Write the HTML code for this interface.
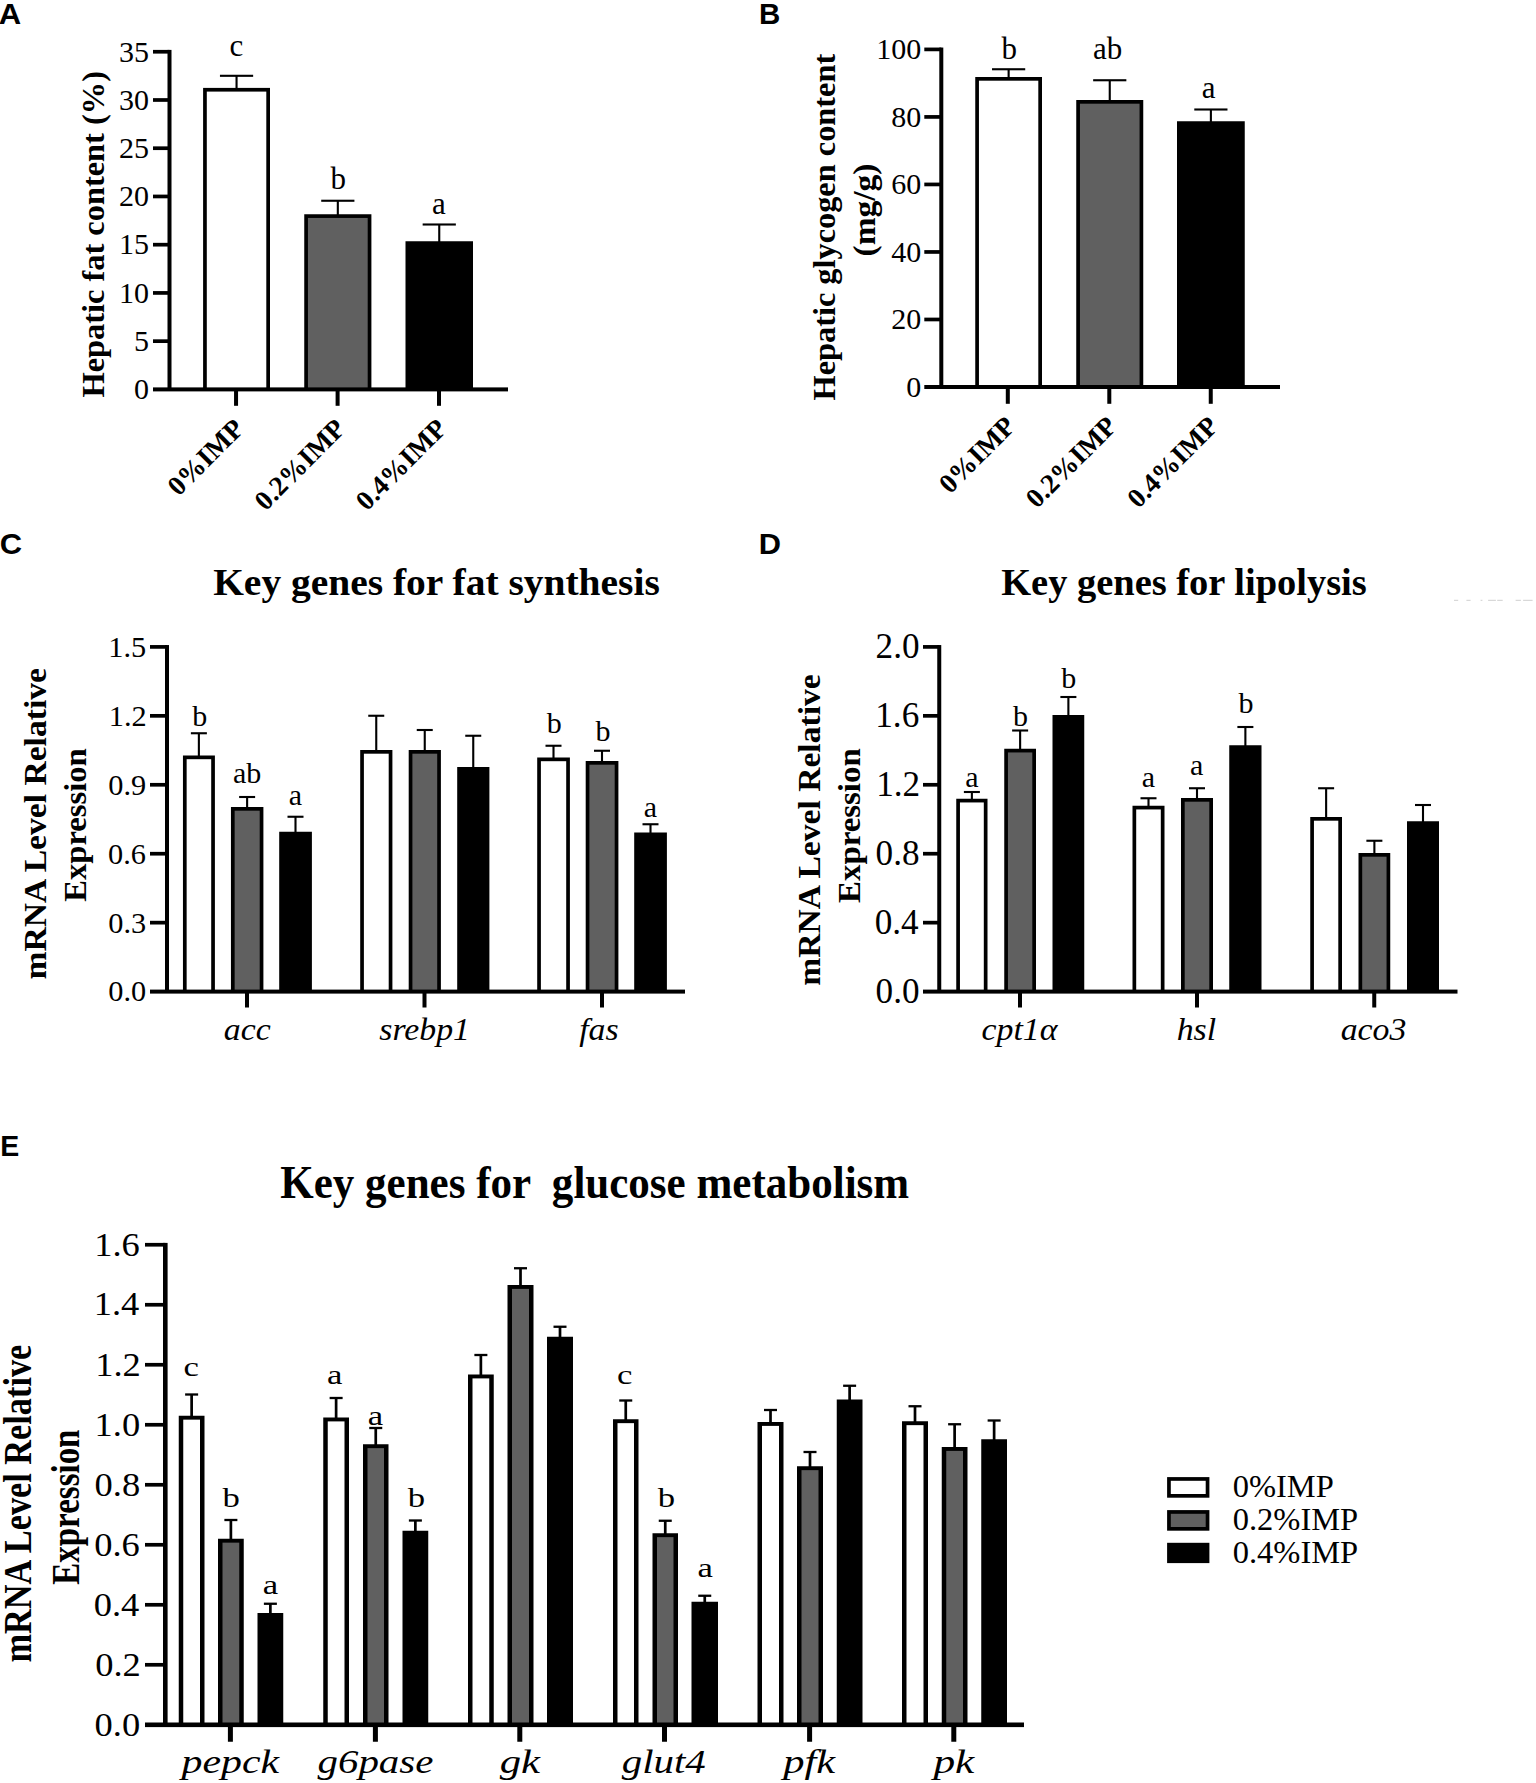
<!DOCTYPE html>
<html lang="en">
<head>
<meta charset="utf-8">
<title>Figure</title>
<style>
html,body{margin:0;padding:0;background:#fff}
svg{display:block}
text{fill:#000;white-space:pre}
.t0{font-family:'Liberation Serif', serif}
.t1{font-family:'Liberation Serif', serif;font-weight:bold}
.t2{font-family:'Liberation Serif', serif;font-style:italic}
.t3{font-family:'Liberation Sans', sans-serif;font-weight:bold}
</style>
</head>
<body>
<svg width="1536" height="1783" viewBox="0 0 1536 1783" shape-rendering="geometricPrecision">
<rect x="0" y="0" width="1536" height="1783" fill="#fff"/>
<g>
<rect x="203.1" y="87.9" width="66.9" height="301.5" fill="#000"/>
<rect x="206.8" y="91.6" width="59.5" height="297.8" fill="#fff"/>
<rect x="219.95" y="74.75" width="33.2" height="2.1" fill="#000"/>
<rect x="235.5" y="75.8" width="2.1" height="13.1" fill="#000"/>
<rect x="304.25" y="214.25" width="67.15" height="175.15" fill="#000"/>
<rect x="307.95" y="217.95" width="59.75" height="171.45" fill="#606060"/>
<rect x="321.22" y="199.7" width="33.2" height="2.1" fill="#000"/>
<rect x="336.77" y="200.75" width="2.1" height="14.5" fill="#000"/>
<rect x="405.5" y="241.25" width="67.5" height="148.15" fill="#000"/>
<rect x="422.65" y="223.45" width="33.2" height="2.1" fill="#000"/>
<rect x="438.2" y="224.5" width="2.1" height="17.75" fill="#000"/>
<rect x="975.25" y="77" width="66.75" height="310" fill="#000"/>
<rect x="978.95" y="80.7" width="59.35" height="306.3" fill="#fff"/>
<rect x="992.02" y="68.2" width="33.2" height="2.1" fill="#000"/>
<rect x="1007.58" y="69.25" width="2.1" height="8.75" fill="#000"/>
<rect x="1076.25" y="100" width="67" height="287" fill="#000"/>
<rect x="1079.95" y="103.7" width="59.6" height="283.3" fill="#606060"/>
<rect x="1093.15" y="79.2" width="33.2" height="2.1" fill="#000"/>
<rect x="1108.7" y="80.25" width="2.1" height="20.75" fill="#000"/>
<rect x="1177" y="121.25" width="67.75" height="265.75" fill="#000"/>
<rect x="1194.28" y="108.45" width="33.2" height="2.1" fill="#000"/>
<rect x="1209.83" y="109.5" width="2.1" height="12.75" fill="#000"/>
<rect x="182.95" y="755.5" width="31.95" height="236.1" fill="#000"/>
<rect x="186.65" y="759.2" width="24.55" height="232.4" fill="#fff"/>
<rect x="190.88" y="732.2" width="16" height="2.1" fill="#000"/>
<rect x="197.82" y="733.25" width="2.1" height="23.25" fill="#000"/>
<rect x="230.95" y="807" width="32.45" height="184.6" fill="#000"/>
<rect x="234.65" y="810.7" width="25.05" height="180.9" fill="#606060"/>
<rect x="239.12" y="795.95" width="16" height="2.1" fill="#000"/>
<rect x="246.07" y="797" width="2.1" height="11" fill="#000"/>
<rect x="279.2" y="831.75" width="32.7" height="159.85" fill="#000"/>
<rect x="287.5" y="815.7" width="16" height="2.1" fill="#000"/>
<rect x="294.45" y="816.75" width="2.1" height="16" fill="#000"/>
<rect x="360.2" y="750" width="32.2" height="241.6" fill="#000"/>
<rect x="363.9" y="753.7" width="24.8" height="237.9" fill="#fff"/>
<rect x="368.25" y="714.7" width="16" height="2.1" fill="#000"/>
<rect x="375.2" y="715.75" width="2.1" height="35.25" fill="#000"/>
<rect x="408.7" y="750" width="32.2" height="241.6" fill="#000"/>
<rect x="412.4" y="753.7" width="24.8" height="237.9" fill="#606060"/>
<rect x="416.75" y="728.95" width="16" height="2.1" fill="#000"/>
<rect x="423.7" y="730" width="2.1" height="21" fill="#000"/>
<rect x="457.2" y="767" width="32.2" height="224.6" fill="#000"/>
<rect x="465.25" y="734.7" width="16" height="2.1" fill="#000"/>
<rect x="472.2" y="735.75" width="2.1" height="32.25" fill="#000"/>
<rect x="537.2" y="757.5" width="32.7" height="234.1" fill="#000"/>
<rect x="540.9" y="761.2" width="25.3" height="230.4" fill="#fff"/>
<rect x="545.5" y="744.7" width="16" height="2.1" fill="#000"/>
<rect x="552.45" y="745.75" width="2.1" height="12.75" fill="#000"/>
<rect x="585.7" y="761" width="32.7" height="230.6" fill="#000"/>
<rect x="589.4" y="764.7" width="25.3" height="226.9" fill="#606060"/>
<rect x="594" y="749.7" width="16" height="2.1" fill="#000"/>
<rect x="600.95" y="750.75" width="2.1" height="11.25" fill="#000"/>
<rect x="634.2" y="832.5" width="32.7" height="159.1" fill="#000"/>
<rect x="642.5" y="823.2" width="16" height="2.1" fill="#000"/>
<rect x="649.45" y="824.25" width="2.1" height="9.25" fill="#000"/>
<rect x="956.25" y="798.75" width="31.25" height="192.85" fill="#000"/>
<rect x="959.95" y="802.45" width="23.85" height="189.15" fill="#fff"/>
<rect x="963.88" y="790.95" width="16" height="2.1" fill="#000"/>
<rect x="970.83" y="792" width="2.1" height="7.75" fill="#000"/>
<rect x="1004.25" y="748.75" width="31.75" height="242.85" fill="#000"/>
<rect x="1007.95" y="752.45" width="24.35" height="239.15" fill="#606060"/>
<rect x="1012.12" y="729.45" width="16" height="2.1" fill="#000"/>
<rect x="1019.08" y="730.5" width="2.1" height="19.25" fill="#000"/>
<rect x="1052.5" y="715" width="31.75" height="276.6" fill="#000"/>
<rect x="1060.38" y="695.95" width="16" height="2.1" fill="#000"/>
<rect x="1067.33" y="697" width="2.1" height="19" fill="#000"/>
<rect x="1132.5" y="805.75" width="32" height="185.85" fill="#000"/>
<rect x="1136.2" y="809.45" width="24.6" height="182.15" fill="#fff"/>
<rect x="1140.5" y="797.2" width="16" height="2.1" fill="#000"/>
<rect x="1147.45" y="798.25" width="2.1" height="8.5" fill="#000"/>
<rect x="1181" y="798" width="32" height="193.6" fill="#000"/>
<rect x="1184.7" y="801.7" width="24.6" height="189.9" fill="#606060"/>
<rect x="1189" y="787.2" width="16" height="2.1" fill="#000"/>
<rect x="1195.95" y="788.25" width="2.1" height="10.75" fill="#000"/>
<rect x="1229.25" y="745.25" width="32.25" height="246.35" fill="#000"/>
<rect x="1237.38" y="725.95" width="16" height="2.1" fill="#000"/>
<rect x="1244.33" y="727" width="2.1" height="19.25" fill="#000"/>
<rect x="1310.25" y="817" width="31.75" height="174.6" fill="#000"/>
<rect x="1313.95" y="820.7" width="24.35" height="170.9" fill="#fff"/>
<rect x="1318.12" y="787.2" width="16" height="2.1" fill="#000"/>
<rect x="1325.08" y="788.25" width="2.1" height="29.75" fill="#000"/>
<rect x="1358.5" y="853" width="31.75" height="138.6" fill="#000"/>
<rect x="1362.2" y="856.7" width="24.35" height="134.9" fill="#606060"/>
<rect x="1366.38" y="839.7" width="16" height="2.1" fill="#000"/>
<rect x="1373.33" y="840.75" width="2.1" height="13.25" fill="#000"/>
<rect x="1407" y="821.25" width="32" height="170.35" fill="#000"/>
<rect x="1415" y="803.95" width="16" height="2.1" fill="#000"/>
<rect x="1421.95" y="805" width="2.1" height="17.25" fill="#000"/>
<rect x="1454" y="599.8" width="4.2" height="1" fill="#cfcfcf"/>
<rect x="1466.4" y="599.8" width="4.2" height="1" fill="#cfcfcf"/>
<rect x="1480.6" y="599.8" width="1.8" height="1" fill="#cfcfcf"/>
<rect x="1488.1" y="599.8" width="7.8" height="1" fill="#cfcfcf"/>
<rect x="1497.2" y="599.8" width="5.5" height="1" fill="#cfcfcf"/>
<rect x="1515.6" y="599.8" width="5.3" height="1" fill="#cfcfcf"/>
<rect x="1523.1" y="599.8" width="9.5" height="1" fill="#cfcfcf"/>
<rect x="178.75" y="1415.75" width="25.75" height="309.25" fill="#000"/>
<rect x="183.25" y="1419.65" width="16.75" height="305.35" fill="#fff"/>
<rect x="185.12" y="1393.35" width="13" height="2.3" fill="#000"/>
<rect x="190.28" y="1394.5" width="2.7" height="22.25" fill="#000"/>
<rect x="218" y="1538.75" width="25.75" height="186.25" fill="#000"/>
<rect x="222.5" y="1542.65" width="16.75" height="182.35" fill="#606060"/>
<rect x="224.38" y="1518.85" width="13" height="2.3" fill="#000"/>
<rect x="229.53" y="1520" width="2.7" height="19.75" fill="#000"/>
<rect x="257.5" y="1613" width="25.75" height="112" fill="#000"/>
<rect x="263.88" y="1602.6" width="13" height="2.3" fill="#000"/>
<rect x="269.02" y="1603.75" width="2.7" height="10.25" fill="#000"/>
<rect x="323.25" y="1417.5" width="25.75" height="307.5" fill="#000"/>
<rect x="327.75" y="1421.4" width="16.75" height="303.6" fill="#fff"/>
<rect x="329.62" y="1396.85" width="13" height="2.3" fill="#000"/>
<rect x="334.77" y="1398" width="2.7" height="20.5" fill="#000"/>
<rect x="363" y="1444.25" width="25.5" height="280.75" fill="#000"/>
<rect x="367.5" y="1448.15" width="16.5" height="276.85" fill="#606060"/>
<rect x="369.25" y="1426.85" width="13" height="2.3" fill="#000"/>
<rect x="374.4" y="1428" width="2.7" height="17.25" fill="#000"/>
<rect x="402.5" y="1530.75" width="25.75" height="194.25" fill="#000"/>
<rect x="408.88" y="1519.35" width="13" height="2.3" fill="#000"/>
<rect x="414.02" y="1520.5" width="2.7" height="11.25" fill="#000"/>
<rect x="468" y="1374.5" width="25.75" height="350.5" fill="#000"/>
<rect x="472.5" y="1378.4" width="16.75" height="346.6" fill="#fff"/>
<rect x="474.38" y="1353.85" width="13" height="2.3" fill="#000"/>
<rect x="479.52" y="1355" width="2.7" height="20.5" fill="#000"/>
<rect x="507.5" y="1285" width="26" height="440" fill="#000"/>
<rect x="512" y="1288.9" width="17" height="436.1" fill="#606060"/>
<rect x="514" y="1267.1" width="13" height="2.3" fill="#000"/>
<rect x="519.15" y="1268.25" width="2.7" height="17.75" fill="#000"/>
<rect x="547" y="1336.75" width="26" height="388.25" fill="#000"/>
<rect x="553.5" y="1325.6" width="13" height="2.3" fill="#000"/>
<rect x="558.65" y="1326.75" width="2.7" height="11" fill="#000"/>
<rect x="613" y="1419.25" width="25.5" height="305.75" fill="#000"/>
<rect x="617.5" y="1423.15" width="16.5" height="301.85" fill="#fff"/>
<rect x="619.25" y="1399.35" width="13" height="2.3" fill="#000"/>
<rect x="624.4" y="1400.5" width="2.7" height="19.75" fill="#000"/>
<rect x="652.5" y="1533.25" width="25.5" height="191.75" fill="#000"/>
<rect x="657" y="1537.15" width="16.5" height="187.85" fill="#606060"/>
<rect x="658.75" y="1519.6" width="13" height="2.3" fill="#000"/>
<rect x="663.9" y="1520.75" width="2.7" height="13.5" fill="#000"/>
<rect x="691.5" y="1601.75" width="26.5" height="123.25" fill="#000"/>
<rect x="698.25" y="1594.6" width="13" height="2.3" fill="#000"/>
<rect x="703.4" y="1595.75" width="2.7" height="7" fill="#000"/>
<rect x="757.5" y="1422" width="26" height="303" fill="#000"/>
<rect x="762" y="1425.9" width="17" height="299.1" fill="#fff"/>
<rect x="764" y="1408.85" width="13" height="2.3" fill="#000"/>
<rect x="769.15" y="1410" width="2.7" height="13" fill="#000"/>
<rect x="797" y="1466.25" width="26" height="258.75" fill="#000"/>
<rect x="801.5" y="1470.15" width="17" height="254.85" fill="#606060"/>
<rect x="803.5" y="1450.85" width="13" height="2.3" fill="#000"/>
<rect x="808.65" y="1452" width="2.7" height="15.25" fill="#000"/>
<rect x="836.75" y="1399.5" width="25.75" height="325.5" fill="#000"/>
<rect x="843.12" y="1384.6" width="13" height="2.3" fill="#000"/>
<rect x="848.27" y="1385.75" width="2.7" height="14.75" fill="#000"/>
<rect x="902" y="1421.25" width="26" height="303.75" fill="#000"/>
<rect x="906.5" y="1425.15" width="17" height="299.85" fill="#fff"/>
<rect x="908.5" y="1405.1" width="13" height="2.3" fill="#000"/>
<rect x="913.65" y="1406.25" width="2.7" height="16" fill="#000"/>
<rect x="941.75" y="1447" width="25.75" height="278" fill="#000"/>
<rect x="946.25" y="1450.9" width="16.75" height="274.1" fill="#606060"/>
<rect x="948.12" y="1423.1" width="13" height="2.3" fill="#000"/>
<rect x="953.27" y="1424.25" width="2.7" height="23.75" fill="#000"/>
<rect x="981.25" y="1439.25" width="25.75" height="285.75" fill="#000"/>
<rect x="987.62" y="1419.35" width="13" height="2.3" fill="#000"/>
<rect x="992.77" y="1420.5" width="2.7" height="19.75" fill="#000"/>
<rect x="1167.1" y="1477.1" width="42.3" height="20.6" fill="#000"/>
<rect x="1170.8" y="1480.8" width="34.9" height="13.2" fill="#fff"/>
<rect x="1167.1" y="1510.1" width="42.3" height="20.6" fill="#000"/>
<rect x="1170.8" y="1513.8" width="34.9" height="13.2" fill="#606060"/>
<rect x="1167.1" y="1542.8" width="42.3" height="20.3" fill="#000"/>
</g>
<g fill="#000">
<rect x="167.5" y="49.9" width="4" height="339.5"/>
<rect x="153" y="387.4" width="355" height="4"/>
<rect x="153" y="49.9" width="16.5" height="3.7"/>
<rect x="153" y="98.14" width="16.5" height="3.7"/>
<rect x="153" y="146.37" width="16.5" height="3.7"/>
<rect x="153" y="194.61" width="16.5" height="3.7"/>
<rect x="153" y="242.84" width="16.5" height="3.7"/>
<rect x="153" y="291.08" width="16.5" height="3.7"/>
<rect x="153" y="339.31" width="16.5" height="3.7"/>
<rect x="234.05" y="389.4" width="4" height="16.4"/>
<rect x="335.6" y="389.4" width="4" height="16.4"/>
<rect x="437" y="389.4" width="4" height="16.4"/>
<rect x="939.3" y="47.55" width="4" height="339.45"/>
<rect x="924.3" y="385" width="355.7" height="4"/>
<rect x="924.3" y="47.55" width="17" height="3.7"/>
<rect x="924.3" y="115.07" width="17" height="3.7"/>
<rect x="924.3" y="182.59" width="17" height="3.7"/>
<rect x="924.3" y="250.11" width="17" height="3.7"/>
<rect x="924.3" y="317.63" width="17" height="3.7"/>
<rect x="1005.8" y="387" width="4" height="16.8"/>
<rect x="1107.3" y="387" width="4" height="16.8"/>
<rect x="1208.75" y="387" width="4" height="16.8"/>
<rect x="165" y="645.05" width="4" height="346.55"/>
<rect x="150" y="989.6" width="535" height="4"/>
<rect x="150" y="645.05" width="17" height="3.7"/>
<rect x="150" y="713.99" width="17" height="3.7"/>
<rect x="150" y="782.93" width="17" height="3.7"/>
<rect x="150" y="851.87" width="17" height="3.7"/>
<rect x="150" y="920.81" width="17" height="3.7"/>
<rect x="245" y="991.6" width="4" height="15.9"/>
<rect x="422.5" y="991.6" width="4" height="15.9"/>
<rect x="600" y="991.6" width="4" height="15.9"/>
<rect x="937.25" y="645.05" width="4" height="346.55"/>
<rect x="923" y="989.6" width="534.5" height="4"/>
<rect x="923" y="645.05" width="16.25" height="3.7"/>
<rect x="923" y="713.99" width="16.25" height="3.7"/>
<rect x="923" y="782.93" width="16.25" height="3.7"/>
<rect x="923" y="851.87" width="16.25" height="3.7"/>
<rect x="923" y="920.81" width="16.25" height="3.7"/>
<rect x="1018" y="991.6" width="4" height="15.9"/>
<rect x="1195" y="991.6" width="4" height="15.9"/>
<rect x="1372.25" y="991.6" width="4" height="15.9"/>
<rect x="163" y="1242.9" width="4.6" height="481.9"/>
<rect x="145" y="1722.5" width="879" height="4.6"/>
<rect x="145" y="1242.9" width="20.3" height="3.7"/>
<rect x="145" y="1302.91" width="20.3" height="3.7"/>
<rect x="145" y="1362.91" width="20.3" height="3.7"/>
<rect x="145" y="1422.92" width="20.3" height="3.7"/>
<rect x="145" y="1482.93" width="20.3" height="3.7"/>
<rect x="145" y="1542.93" width="20.3" height="3.7"/>
<rect x="145" y="1602.94" width="20.3" height="3.7"/>
<rect x="145" y="1662.94" width="20.3" height="3.7"/>
<rect x="227.9" y="1724.8" width="5" height="16.95"/>
<rect x="372.9" y="1724.8" width="5" height="16.95"/>
<rect x="517.3" y="1724.8" width="5" height="16.95"/>
<rect x="662" y="1724.8" width="5" height="16.95"/>
<rect x="807.1" y="1724.8" width="5" height="16.95"/>
<rect x="951.3" y="1724.8" width="5" height="16.95"/>
</g>
<g xml:space="preserve">
<text class="t0" transform="translate(118.9,61.5)" font-size="30">35</text>
<text class="t0" transform="translate(118.9,109.81)" font-size="30">30</text>
<text class="t0" transform="translate(118.9,157.97)" font-size="30">25</text>
<text class="t0" transform="translate(118.9,206.28)" font-size="30">20</text>
<text class="t0" transform="translate(118.9,254.37)" font-size="30">15</text>
<text class="t0" transform="translate(118.9,302.75)" font-size="30">10</text>
<text class="t0" transform="translate(133.9,350.84)" font-size="30">5</text>
<text class="t0" transform="translate(133.9,399.22)" font-size="30">0</text>
<text class="t0" transform="translate(229.45,55.5)" font-size="31">c</text>
<text class="t0" transform="translate(330.62,188.75)" font-size="31">b</text>
<text class="t0" transform="translate(432.04,213.75)" font-size="31">a</text>
<text class="t1" transform="translate(103.5,397.49) rotate(-90) scale(1.0120,1)" font-size="32">Hepatic fat content (%)</text>
<text class="t1" transform="translate(178.59,497.11) rotate(-45)" font-size="27.5">0%IMP</text>
<text class="t1" transform="translate(265.41,511.69) rotate(-45)" font-size="27.5">0.2%IMP</text>
<text class="t1" transform="translate(366.76,511.69) rotate(-45)" font-size="27.5">0.4%IMP</text>
<text class="t0" transform="translate(876.2,59.23)" font-size="30">100</text>
<text class="t0" transform="translate(891.2,126.75)" font-size="30">80</text>
<text class="t0" transform="translate(891.2,194.27)" font-size="30">60</text>
<text class="t0" transform="translate(891.2,261.79)" font-size="30">40</text>
<text class="t0" transform="translate(891.2,329.31)" font-size="30">20</text>
<text class="t0" transform="translate(906.2,396.82)" font-size="30">0</text>
<text class="t0" transform="translate(1001.62,58.75)" font-size="31">b</text>
<text class="t0" transform="translate(1092.93,58.75)" font-size="31">ab</text>
<text class="t0" transform="translate(1201.79,97.5)" font-size="31">a</text>
<text class="t1" transform="translate(835.25,400.49) rotate(-90) scale(1.0112,1)" font-size="32">Hepatic glycogen content</text>
<text class="t1" transform="translate(874.5,256.51) rotate(-90) scale(1.0455,1)" font-size="32">(mg/g)</text>
<text class="t1" transform="translate(949.89,494.71) rotate(-45)" font-size="27.5">0%IMP</text>
<text class="t1" transform="translate(1036.81,509.29) rotate(-45)" font-size="27.5">0.2%IMP</text>
<text class="t1" transform="translate(1138.26,509.29) rotate(-45)" font-size="27.5">0.4%IMP</text>
<text class="t0" transform="translate(108.34,656.6)" font-size="30.3">1.5</text>
<text class="t0" transform="translate(108.79,725.61)" font-size="30.3">1.2</text>
<text class="t0" transform="translate(108.34,794.63)" font-size="30.3">0.9</text>
<text class="t0" transform="translate(108.03,863.57)" font-size="30.3">0.6</text>
<text class="t0" transform="translate(108.34,932.51)" font-size="30.3">0.3</text>
<text class="t0" transform="translate(108.34,1001.45)" font-size="30.3">0.0</text>
<text class="t0" transform="translate(192.35,726.25)" font-size="30">b</text>
<text class="t0" transform="translate(232.9,782.5)" font-size="30">ab</text>
<text class="t0" transform="translate(288.77,805)" font-size="30">a</text>
<text class="t0" transform="translate(546.85,733)" font-size="30">b</text>
<text class="t0" transform="translate(595.6,741.25)" font-size="30">b</text>
<text class="t0" transform="translate(643.77,817)" font-size="30">a</text>
<text class="t2" transform="translate(223.76,1039.5) scale(1.0400,1)" font-size="32.5">acc</text>
<text class="t2" transform="translate(379.23,1039.5) scale(1.0400,1)" font-size="32.5">srebp1</text>
<text class="t2" transform="translate(579.15,1039.5) scale(1.0400,1)" font-size="32.5">fas</text>
<text class="t1" transform="translate(213.16,594.5) scale(1.0673,1)" font-size="37">Key genes for fat synthesis</text>
<text class="t1" transform="translate(46.25,979.59) rotate(-90) scale(1.0501,1)" font-size="32">mRNA Level Relative</text>
<text class="t1" transform="translate(86.25,901.74) rotate(-90) scale(1.0194,1)" font-size="32">Expression</text>
<text class="t0" transform="translate(875.61,658.34)" font-size="35.2">2.0</text>
<text class="t0" transform="translate(875.26,727.19)" font-size="35.2">1.6</text>
<text class="t0" transform="translate(876.14,796.13)" font-size="35.2">1.2</text>
<text class="t0" transform="translate(875.61,865.16)" font-size="35.2">0.8</text>
<text class="t0" transform="translate(874.73,934.1)" font-size="35.2">0.4</text>
<text class="t0" transform="translate(875.61,1003.04)" font-size="35.2">0.0</text>
<text class="t0" transform="translate(965.27,787)" font-size="30">a</text>
<text class="t0" transform="translate(1013.1,725.75)" font-size="30">b</text>
<text class="t0" transform="translate(1061.35,688)" font-size="30">b</text>
<text class="t0" transform="translate(1141.78,787)" font-size="30">a</text>
<text class="t0" transform="translate(1190.03,774.5)" font-size="30">a</text>
<text class="t0" transform="translate(1238.6,713)" font-size="30">b</text>
<text class="t2" transform="translate(981.55,1039.5) scale(1.0400,1)" font-size="32.5">cpt1α</text>
<text class="t2" transform="translate(1176.66,1039.5) scale(1.0400,1)" font-size="32.5">hsl</text>
<text class="t2" transform="translate(1340.71,1039.5) scale(1.0400,1)" font-size="32.5">aco3</text>
<text class="t1" transform="translate(1001.17,594.5) scale(1.0396,1)" font-size="37">Key genes for lipolysis</text>
<text class="t1" transform="translate(819.75,985.84) rotate(-90) scale(1.0501,1)" font-size="32">mRNA Level Relative</text>
<text class="t1" transform="translate(860,902.99) rotate(-90) scale(1.0277,1)" font-size="32">Expression</text>
<text class="t0" transform="translate(94.25,1255.55) scale(1.0900,1)" font-size="33.5">1.6</text>
<text class="t0" transform="translate(93.7,1315.48) scale(1.0900,1)" font-size="33.5">1.4</text>
<text class="t0" transform="translate(95.16,1375.57) scale(1.0900,1)" font-size="33.5">1.2</text>
<text class="t0" transform="translate(94.62,1435.66) scale(1.0900,1)" font-size="33.5">1.0</text>
<text class="t0" transform="translate(94.62,1495.66) scale(1.0900,1)" font-size="33.5">0.8</text>
<text class="t0" transform="translate(94.25,1555.67) scale(1.0900,1)" font-size="33.5">0.6</text>
<text class="t0" transform="translate(93.7,1615.67) scale(1.0900,1)" font-size="33.5">0.4</text>
<text class="t0" transform="translate(95.16,1675.68) scale(1.0900,1)" font-size="33.5">0.2</text>
<text class="t0" transform="translate(94.62,1735.69) scale(1.0900,1)" font-size="33.5">0.0</text>
<text class="t0" transform="translate(183.6,1376.2) scale(1.2400,1)" font-size="28">c</text>
<text class="t0" transform="translate(222.51,1507.2) scale(1.2400,1)" font-size="28">b</text>
<text class="t0" transform="translate(262.68,1594.2) scale(1.2400,1)" font-size="28">a</text>
<text class="t0" transform="translate(326.93,1383.7) scale(1.2400,1)" font-size="28">a</text>
<text class="t0" transform="translate(367.68,1424.95) scale(1.2400,1)" font-size="28">a</text>
<text class="t0" transform="translate(407.76,1506.95) scale(1.2400,1)" font-size="28">b</text>
<text class="t0" transform="translate(617.1,1383.7) scale(1.2400,1)" font-size="28">c</text>
<text class="t0" transform="translate(657.76,1506.95) scale(1.2400,1)" font-size="28">b</text>
<text class="t0" transform="translate(697.43,1577.45) scale(1.2400,1)" font-size="28">a</text>
<text class="t2" transform="translate(181.51,1773.2) scale(1.2303,1)" font-size="34">pepck</text>
<text class="t2" transform="translate(317.5,1773.2) scale(1.2037,1)" font-size="34">g6pase</text>
<text class="t2" transform="translate(499.7,1773.2) scale(1.2592,1)" font-size="34">gk</text>
<text class="t2" transform="translate(621.7,1773.2) scale(1.2039,1)" font-size="34">glut4</text>
<text class="t2" transform="translate(783.35,1773.2) scale(1.2491,1)" font-size="34">pfk</text>
<text class="t2" transform="translate(933.4,1773.2) scale(1.2745,1)" font-size="34">pk</text>
<text class="t1" transform="translate(280.25,1197.5) scale(0.9157,1)" font-size="47">Key genes for  glucose metabolism</text>
<text class="t1" transform="translate(31.25,1662.61) rotate(-90) scale(0.8790,1)" font-size="39">mRNA Level Relative</text>
<text class="t1" transform="translate(79.2,1584.74) rotate(-90) scale(0.8249,1)" font-size="40">Expression</text>
<text class="t0" transform="translate(1232.7,1497.4)" font-size="32.5">0%IMP</text>
<text class="t0" transform="translate(1232.7,1530.4)" font-size="32.5">0.2%IMP</text>
<text class="t0" transform="translate(1232.7,1563.1)" font-size="32.5">0.4%IMP</text>
<text class="t3" transform="translate(-1.18,24.3) scale(1.0779,1)" font-size="28.8">A</text>
<text class="t3" transform="translate(758.88,24.3) scale(1.0246,1)" font-size="28.8">B</text>
<text class="t3" transform="translate(-0.24,553.7) scale(1.0735,1)" font-size="28.8">C</text>
<text class="t3" transform="translate(758.8,553.7) scale(1.0699,1)" font-size="28.8">D</text>
<text class="t3" transform="translate(0.25,1156) scale(0.9894,1)" font-size="28.8">E</text>
</g>
</svg>
</body>
</html>
